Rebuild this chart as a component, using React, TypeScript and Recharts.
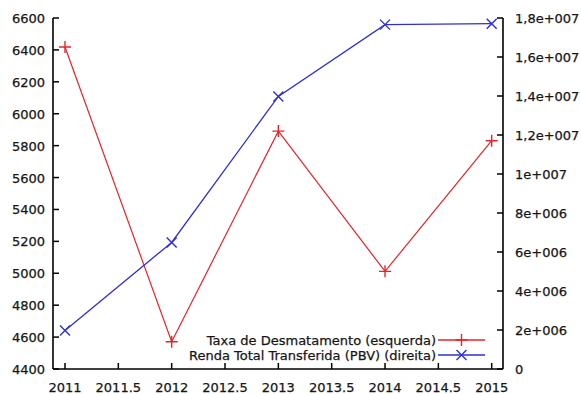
import React from "react";
import { LineChart, Line, XAxis, YAxis, Legend } from "recharts";

const years = [2011, 2012, 2013, 2014, 2015];
const desmatamento = [6418, 4571, 5891, 5012, 5831];
const rendaTransferida = [1.98e6, 6.49e6, 1.398e7, 1.766e7, 1.771e7];

const xTicks = [2011, 2011.5, 2012, 2012.5, 2013, 2013.5, 2014, 2014.5, 2015];
const leftTicks = [4400, 4600, 4800, 5000, 5200, 5400, 5600, 5800, 6000, 6200, 6400, 6600];
const rightTicks = [0, 2e6, 4e6, 6e6, 8e6, 1e7, 1.2e7, 1.4e7, 1.6e7, 1.8e7];
const rightTickLabels = ["0", "2e+006", "4e+006", "6e+006", "8e+006", "1e+007", "1,2e+007", "1,4e+007", "1,6e+007", "1,8e+007"];

const seriesNames = ["Taxa de Desmatamento (esquerda)", "Renda Total Transferida (PBV) (direita)"];

const data = years.map((y, i) => ({ year: y, desmatamento: desmatamento[i], renda: rendaTransferida[i] }));

const RED = "#e3262b";
const BLUE = "#2f2fd2";
const FONT = "'DejaVu Sans', sans-serif";
const TXT = "#161616";
const TICK = 6;

const textStyle = { fontFamily: FONT, fontSize: 13, fill: TXT, stroke: TXT, strokeWidth: 0.25 };

const BottomTick = (p: any) => (
  <g>
    <line x1={p.x} y1={p.y} x2={p.x} y2={p.y - TICK} stroke="#000" strokeWidth={1.5} />
    <text x={p.x} y={p.y + 23} textAnchor="middle" style={textStyle}>
      {String(p.payload.value)}
    </text>
  </g>
);

const TopTick = (p: any) => (
  <g>
    <line x1={p.x} y1={p.y} x2={p.x} y2={p.y + TICK} stroke="#000" strokeWidth={1.5} />
  </g>
);

const LeftTick = (p: any) => (
  <g>
    <line x1={p.x} y1={p.y} x2={p.x + TICK} y2={p.y} stroke="#000" strokeWidth={1.5} />
    <text x={p.x - 8} y={p.y + 5} textAnchor="end" style={textStyle}>
      {String(p.payload.value)}
    </text>
  </g>
);

const RightTick = (p: any) => {
  const idx = rightTicks.indexOf(p.payload.value);
  return (
    <g>
      <line x1={p.x} y1={p.y} x2={p.x - TICK} y2={p.y} stroke="#000" strokeWidth={1.5} />
      <text x={p.x + 12} y={p.y + 5} textAnchor="start" style={textStyle}>
        {idx >= 0 ? rightTickLabels[idx] : String(p.payload.value)}
      </text>
    </g>
  );
};

const plusPath = (cx: number, cy: number, r: number) => `M${cx - r},${cy}H${cx + r}M${cx},${cy - r}V${cy + r}`;
const crossPath = (cx: number, cy: number, r: number) =>
  `M${cx - r},${cy - r}L${cx + r},${cy + r}M${cx - r},${cy + r}L${cx + r},${cy - r}`;

const PlusDot = (p: any) => (
  <path key={`p${p.index}`} d={plusPath(p.cx, p.cy, 6)} stroke={RED} strokeWidth={1.4} fill="none" />
);
const CrossDot = (p: any) => (
  <path key={`c${p.index}`} d={crossPath(p.cx, p.cy, 5)} stroke={BLUE} strokeWidth={1.4} fill="none" />
);

const LegendContent = (props: any) => {
  const payload = [...(props.payload || [])].sort(
    (a: any, b: any) => seriesNames.indexOf(a.value) - seriesNames.indexOf(b.value)
  );
  return (
    <svg width={320} height={36} style={{ display: "block", overflow: "visible" }}>
      {payload.map((item: any, i: number) => {
        const cy = 10 + 15 * i;
        return (
          <g key={item.value}>
            <text x={250} y={cy + 4.5} textAnchor="end" style={textStyle}>
              {item.value}
            </text>
            <line x1={252} y1={cy} x2={299} y2={cy} stroke={item.color} strokeWidth={1.3} />
            <path d={i === 0 ? plusPath(275.5, cy, 6) : crossPath(275.5, cy, 5)} stroke={item.color} strokeWidth={1.4} fill="none" />
          </g>
        );
      })}
    </svg>
  );
};

export default function App() {
  return (
    <div style={{ position: "absolute", left: 0, top: 0, background: "#fff" }}>
      <LineChart width={581} height={394} data={data} margin={{ top: 18, right: 0, bottom: 0, left: 0 }}>
        <XAxis
          dataKey="year"
          type="number"
          domain={[2010.8875, 2015.106]}
          ticks={xTicks}
          interval={0}
          height={25}
          tickSize={0}
          tickMargin={0}
          tickLine={false}
          axisLine={{ stroke: "#000", strokeWidth: 1.6 }}
          tick={<BottomTick />}
          allowDataOverflow
        />
        <XAxis
          xAxisId="top"
          orientation="top"
          dataKey="year"
          type="number"
          domain={[2010.8875, 2015.106]}
          ticks={xTicks}
          interval={0}
          height={0}
          tickSize={0}
          tickMargin={0}
          tickLine={false}
          axisLine={{ stroke: "#000", strokeWidth: 1.6 }}
          tick={<TopTick />}
          allowDataOverflow
        />
        <YAxis
          yAxisId="left"
          orientation="left"
          type="number"
          domain={[4400, 6600]}
          ticks={leftTicks}
          interval={0}
          width={53}
          tickSize={0}
          tickMargin={0}
          tickLine={false}
          axisLine={{ stroke: "#000", strokeWidth: 1.6 }}
          tick={<LeftTick />}
          allowDataOverflow
        />
        <YAxis
          yAxisId="right"
          orientation="right"
          type="number"
          domain={[0, 1.8e7]}
          ticks={rightTicks}
          interval={0}
          width={78}
          tickSize={0}
          tickMargin={0}
          tickLine={false}
          axisLine={{ stroke: "#000", strokeWidth: 1.6 }}
          tick={<RightTick />}
          allowDataOverflow
        />
        <Line
          yAxisId="left"
          dataKey="desmatamento"
          name={seriesNames[0]}
          stroke={RED}
          strokeWidth={1.2}
          dot={PlusDot}
          activeDot={false}
          isAnimationActive={false}
        />
        <Line
          yAxisId="right"
          dataKey="renda"
          name={seriesNames[1]}
          stroke={BLUE}
          strokeWidth={1.3}
          dot={CrossDot}
          activeDot={false}
          isAnimationActive={false}
        />
        <Legend
          layout="horizontal"
          verticalAlign="middle"
          align="center"
          content={<LegendContent />}
          wrapperStyle={{ left: 186, top: 330, width: 320, height: 36, margin: 0 }}
        />
      </LineChart>
    </div>
  );
}
